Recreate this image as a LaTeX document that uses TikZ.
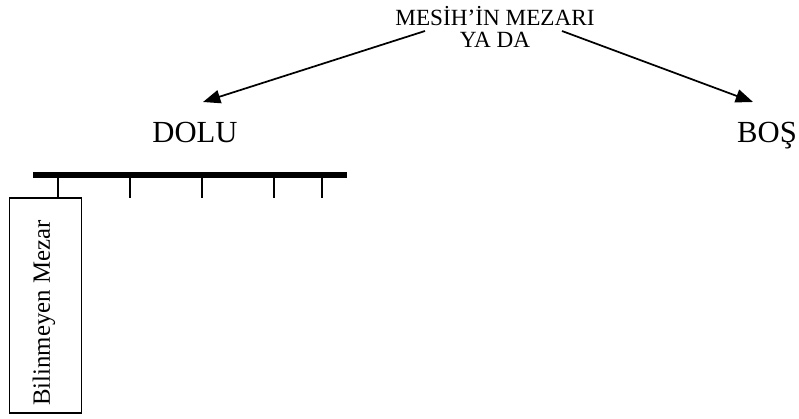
\documentclass[tikz,border=0pt]{standalone}
\usepackage{fontspec}
\setmainfont{Liberation Serif}
\usetikzlibrary{arrows.meta}

\tikzset{
  baslik/.style = {align=center, font=\fontsize{17.4pt}{17pt}\selectfont, inner sep=0pt},
  secenek/.style = {font=\fontsize{23pt}{28pt}\selectfont, inner sep=0pt, anchor=base},
  kutu/.style = {draw, line width=1.1pt, rotate=90, minimum width=161pt, minimum height=54pt, inner sep=0pt},
  yazi/.style = {rotate=90, inner sep=0pt, font=\fontsize{18.6pt}{23pt}\selectfont},
  ok/.style = {line width=1.3pt, -{Triangle[length=13pt,width=10pt]}}
}

\begin{document}
\begin{tikzpicture}[x=0.75pt, y=-0.75pt]
	\useasboundingbox (0,0) rectangle (799,418);
	% baslik ve iki secenek
	\node[baslik] (mezar) at (495,27) {MES\.IH'\.IN MEZARI\\YA DA};
	\node[secenek] (dolu) at (195,142) {DOLU};
	\node[secenek] (bos) at (767,142) {BOŞ};
	\coordinate (solbas) at (425,31);
	\coordinate (sagbas) at (562,31);
	\coordinate (soluc) at (203,102);
	\coordinate (saguc) at (753,102);
	\draw[ok] (solbas) -- (soluc);
	\draw[ok] (sagbas) -- (saguc);
	% cubuk
	\coordinate (cubukL) at (33,175);
	\coordinate (cubukR) at (347,175);
	\draw[line width=3.8pt] (cubukL) -- (cubukR);
	\foreach \x in {130,202,274,322}
		\draw[line width=1pt] (\x,175) -- (\x,198);
	% bilinmeyen mezar kutusu
	\node[kutu] (bilinmeyen) at (45.5,305.5) {};
	\node[yazi] (etiket) at (44,313) {Bilinmeyen Mezar};
	\coordinate (t1) at (58,175);
	\draw[line width=1pt] (t1) -- (t1 |- bilinmeyen.east);
\end{tikzpicture}
\end{document}
